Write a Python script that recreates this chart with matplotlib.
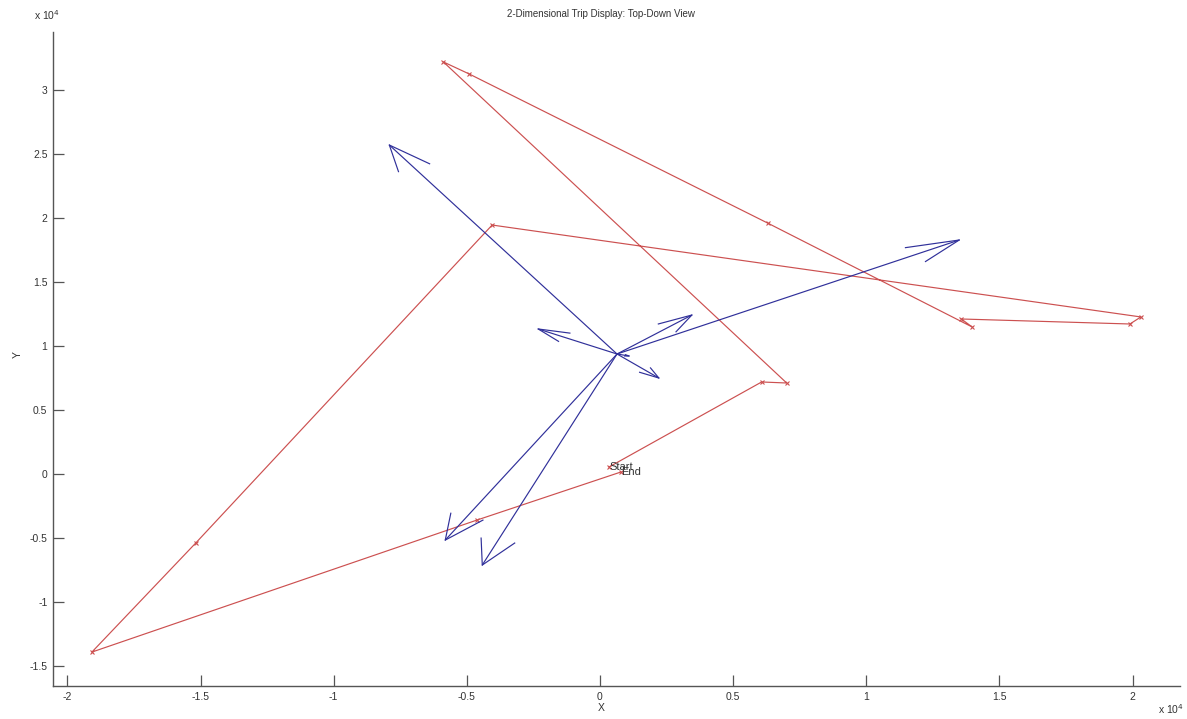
import numpy as np
import matplotlib
matplotlib.use('Agg')
import matplotlib.pyplot as plt
from matplotlib.ticker import FuncFormatter, MultipleLocator

plt.rcParams['font.family'] = ['Liberation Sans', 'DejaVu Sans']

# Trip route (metres), in driving order
route_x = [340, 6070, 7010, -5880, -4910, 6300, 13980, 13570, 19900, 20310,
           -4050, -15180, -19080, -4610, 790]
route_y = [550, 7190, 7110, 32190, 31250, 19600, 11480, 12110, 11720, 12270,
           19450, -5390, -13910, -3590, 160]

# Direction vectors drawn from a common origin
vec_origin = (640, 9375)
vec_tip_x = [-7910, 13490, 3450, -2320, 2210, -5810, -4420, 1090]
vec_tip_y = [25700, 18280, 12420, 11330, 7500, -5160, -7110, 9220]

red = '#cc5050'
blue = '#30309a'
grey = '#555555'
txt = '#333333'

fig = plt.figure(figsize=(11.87, 7.19), dpi=100)
ax = fig.add_axes([53 / 1187, 33 / 719, 1127 / 1187, 654 / 719])

ax.plot(route_x, route_y, color=red, lw=0.85, marker='x', ms=3.5, mew=0.8)


def quiver_arrow(ax, x0, y0, x1, y1, beta=0.33):
    # quiver-style open head: two barbs from the tip
    u, v = x1 - x0, y1 - y0
    length = np.hypot(u, v) / 1e4
    alpha = min(0.33, 0.2 / length)
    bx1 = x1 - alpha * (u + beta * v)
    by1 = y1 - alpha * (v - beta * u)
    bx2 = x1 - alpha * (u - beta * v)
    by2 = y1 - alpha * (v + beta * u)
    ax.plot([x0, x1], [y0, y1], color=blue, lw=0.85)
    ax.plot([bx1, x1, bx2], [by1, y1, by2], color=blue, lw=0.85)


for tx, ty in zip(vec_tip_x, vec_tip_y):
    quiver_arrow(ax, vec_origin[0], vec_origin[1], tx, ty)

ax.text(route_x[0], route_y[0], 'Start', fontsize=8, color=txt,
        ha='left', va='center')
ax.text(route_x[-1], route_y[-1], 'End', fontsize=8, color=txt,
        ha='left', va='center')

ax.set_xlim(-20540, 21780)
ax.set_ylim(-16560, 34530)
ax.xaxis.set_major_locator(MultipleLocator(5000))
ax.yaxis.set_major_locator(MultipleLocator(5000))
fmt = FuncFormatter(lambda v, p: '%g' % (v / 1e4))
ax.xaxis.set_major_formatter(fmt)
ax.yaxis.set_major_formatter(fmt)

for side in ['top', 'right']:
    ax.spines[side].set_visible(False)
for side in ['left', 'bottom']:
    ax.spines[side].set_color(grey)
    ax.spines[side].set_linewidth(1.0)
ax.tick_params(direction='in', length=8, width=0.9, color=grey,
               labelsize=7.5, labelcolor=txt, pad=4)

# axis labels and title placed in figure coordinates
fig.text(601 / 1187, 1 - 708 / 719, 'X', fontsize=7.5, color=txt,
         ha='center', va='center')
fig.text(18 / 1187, 1 - 355 / 719, 'Y', fontsize=7.5, color=txt,
         ha='center', va='center', rotation=90)
fig.text(601 / 1187, 1 - 14 / 719, '2-Dimensional Trip Display: Top-Down View',
         fontsize=7, color=txt, ha='center', va='center')

# exponent markers
fig.text(34 / 1187, 1 - 22 / 719, r'x 10$^{4}$', fontsize=7.5,
         color=txt, ha='left', va='bottom')
fig.text(1158 / 1187, 3 / 719, r'x 10$^{4}$', fontsize=7.5,
         color=txt, ha='left', va='bottom')

fig.savefig('out.png', dpi=100)
